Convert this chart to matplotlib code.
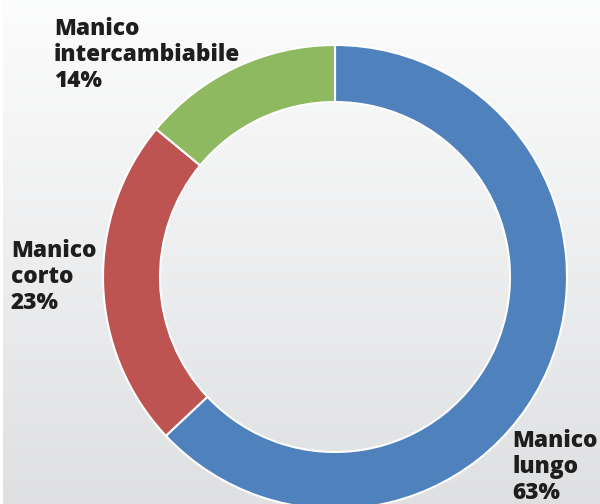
import matplotlib
matplotlib.use("Agg")
import matplotlib.pyplot as plt
import numpy as np

categories = ["Manico lungo", "Manico corto", "Manico intercambiabile"]
values = [63, 23, 14]
label_texts = ["Manico\nlungo\n63%", "Manico\ncorto\n23%", "Manico\nintercambiabile\n14%"]
colors = ["#4f81bd", "#be5452", "#8fb961"]

W, H = 600, 504
fig = plt.figure(figsize=(W / 100, H / 100), dpi=100)
ax = fig.add_axes([0, 0, 1, 1])

# background gradient (white top -> light gray bottom)
grad = np.linspace(0, 1, 256)
top = np.array([0.988, 0.990, 0.990])
bot = np.array([0.875, 0.878, 0.886])
img = (top[None, :] + (bot - top)[None, :] * grad[:, None]).reshape(256, 1, 3)
ax.imshow(img, extent=[3, W, 0, H], origin="upper", aspect="auto", zorder=0)

cx, cy, r = 335, H - 277, 232
ax.pie(values, colors=colors, startangle=90, counterclock=False,
       center=(cx, cy), radius=r, frame=True,
       wedgeprops=dict(width=57, edgecolor="white", linewidth=1.5))
ax.set_xlim(0, W)
ax.set_ylim(0, H)
ax.set_aspect("equal")
ax.axis("off")

font = dict(family="Open Sans", weight="extra bold", fontsize=16.3, color="#1e1e1e",
            va="baseline", ha="left", linespacing=1.1)
# baseline of the last line of each label (pixels from top)
positions = [(512, 499), (11, 309), (54, 87)]
for (x, y), t in zip(positions, label_texts):
    ax.text(x, H - y, t, zorder=5, **font)

fig.savefig("out.png", dpi=100)
